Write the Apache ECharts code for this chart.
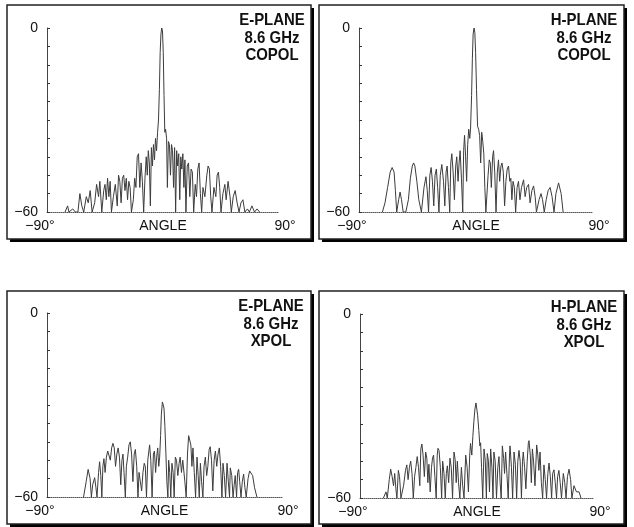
<!DOCTYPE html>
<html>
<head>
<meta charset="utf-8">
<script src="https://cdn.jsdelivr.net/npm/echarts@6/dist/echarts.min.js"></script>
<style>
  html, body { margin: 0; padding: 0; background: #fff; }
  #chart { width: 634px; height: 527px; }
</style>
</head>
<body>
<div id="chart"></div>
<script>
// Measured antenna patterns at 8.6 GHz: [angle in degrees, relative level in dB]
const eCopol = [
  [-76,-60],[-74,-58],[-73,-60],[-70,-59],[-68,-60],
  [-66,-60],[-64.5,-54],[-63,-58],[-61.5,-60],[-59.5,-55],[-58,-57],[-56.5,-53],[-55,-60],
  [-53,-57],[-51.5,-51],[-50,-55],[-49,-50],[-47.5,-60],[-46,-53],[-45,-51],[-44,-56],[-43,-49],[-42,-55],[-41,-50],[-40,-60],
  [-38.5,-55],[-37,-51],[-35.5,-58],[-34.5,-48],[-33.5,-50],[-32.5,-57],[-31.5,-49],[-30.5,-48],[-29.5,-53],[-28.5,-49],[-27.5,-56],[-26.5,-50],[-25.5,-52],[-24.5,-60],
  [-23,-56],[-22,-49],[-21,-52],[-20,-42],[-19,-41],[-18,-52],[-17,-44],[-16,-50],[-15,-60],[-14,-49],[-13,-42],[-12.2,-48],[-11.4,-40],[-10.6,-44],[-9.8,-58],[-9,-39],[-8.2,-45],[-7.4,-38],[-6.6,-43],[-5.8,-36],[-5,-40],[-4.2,-34],[-3.5,-30],
  [-2.8,-20],[-2.2,-8],[-1.6,-2],[-1,0],[-0.4,-1],[0.2,-8],[0.8,-22],[1.4,-34],
  [2,-33],[2.8,-36],[3.4,-52],[4.2,-37],[5,-38],[5.8,-48],[6.6,-38],[7.4,-40],[8.2,-52],[9,-39],[9.8,-60],[10.6,-40],[11.4,-45],[12.2,-41],[13,-56],[13.8,-42],[14.6,-46],[15.4,-41],[16.2,-52],[17,-43],[17.8,-60],
  [18.8,-45],[19.8,-44],[20.8,-55],[21.8,-46],[22.8,-47],[23.8,-60],[25,-51],[26,-55],[27,-46],[28,-44],[29,-54],[30,-60],[31,-52],[32.5,-55],[34,-48],[35,-45],[36,-46],[37,-55],[38,-60],
  [39.5,-52],[41,-55],[42,-48],[43,-47],[44,-52],[45,-60],[46.5,-54],[48,-51],[49,-56],[50.5,-50],[52,-55],[53,-60],[54.5,-55],[56,-53],[57.5,-57],[59,-60],[60.5,-57],[62,-56],[63.5,-60],[65.5,-59],[67,-60],[69,-58],[71,-60],[73,-59],[75,-60]
];

const hCopol = [
  [-72,-60],[-70,-57],[-68,-52],[-66,-47],[-64.5,-45.5],[-63,-47],[-62,-53],[-61,-60],[-59.5,-56],[-58.4,-53.5],[-57.3,-56],[-56,-60],
  [-54,-60],[-52,-56],[-50.5,-49],[-49,-45],[-48,-44],[-47,-45],[-45.5,-50],[-44,-56],[-42,-60],
  [-40,-52],[-38.5,-48.5],[-37.5,-53],[-36.5,-60],[-35.5,-48],[-34.5,-45.5],[-33.5,-50],[-32.5,-58],[-31.5,-48],[-30.5,-46],[-29.5,-52],[-28.5,-60],[-27.5,-48],[-26.3,-44.5],[-25,-50],[-24,-58],[-23,-47],[-22.2,-45],[-21.2,-52],[-20.2,-60],[-19.4,-44],[-18.6,-41],[-17.6,-47],[-16.6,-56],[-15.6,-45],[-14.8,-42],[-13.8,-50],[-13,-44],[-12.2,-40],[-11.2,-49],[-10.2,-60],[-9.5,-40],[-8.8,-35],[-8,-42],[-7.2,-50],[-6.4,-38],[-5.6,-33],[-4.8,-36],[-4.2,-33],
  [-3.4,-22],[-2.8,-10],[-2.2,-2],[-1.5,0],[-0.9,-1.5],[-0.3,-8],[0.4,-20],[1.2,-32],
  [2,-33],[2.8,-35],[3.6,-44],[4.4,-34],[5.2,-37],[6,-41],[6.8,-52],[7.6,-60],[8.4,-60],[9.3,-48],[10.2,-43],[11,-44],[11.8,-52],[12.8,-42],[13.5,-40],[14.4,-47],[15.4,-60],[16.4,-47],[17.3,-43],[18.2,-50],[19.2,-45],[20,-44],[21,-47],[22,-58],[23,-50],[24,-46],[25,-45],[26,-50],[26.8,-49],[27.6,-56],[28.5,-50],[29.5,-52],[30.5,-60],[31.6,-52],[32.7,-50],[33.8,-56],[35,-52],[36.6,-49.5],[37.8,-55],[39,-52],[40.4,-51],[41.6,-57],[43,-53],[44.3,-51.5],[45.5,-55],[46.5,-60],[47.5,-60],[48.5,-56],[50,-54],[51.2,-56],[52.5,-60],[54,-56],[55.5,-53],[57,-52],[58.5,-55],[60,-60],[61.5,-54],[63.5,-50.5],[65.5,-54],[67,-60]
];

const eXpol = [
  [-62,-60],[-60,-55],[-58.5,-51],[-57,-54],[-56,-60],[-55,-56],[-53.5,-53.7],[-52.5,-57],[-51.7,-60],
  [-50.5,-52],[-49.7,-48.5],[-48.8,-53],[-48,-60],[-47.2,-50],[-46.4,-47.5],[-45.5,-52],[-44.5,-47],[-43.5,-45],[-42.5,-44.5],[-41.5,-48],[-40.5,-44],[-39.5,-42.5],[-38.5,-44],[-37.5,-50],[-36.5,-46],[-35.5,-44],[-34.5,-47],[-33.5,-56],[-32.6,-48],[-31.8,-46],[-31,-52],[-30,-60],[-29.2,-50],[-28.2,-47],[-27.2,-43],[-26.2,-42],[-25.2,-46],[-24.2,-55],[-23.2,-46],[-22.3,-44.5],[-21.3,-50],[-20.3,-60],[-19.5,-52],[-18.5,-55],[-17.5,-58],[-16.5,-52],[-15.5,-49],[-14.7,-50],[-13.8,-60],[-12.8,-48],[-11.4,-43],[-10.5,-48],[-9.5,-60],[-8.5,-46],[-7.7,-45],[-6.8,-52],[-6,-47],[-5.2,-44],[-4.4,-50],[-3.7,-47],
  [-3,-40],[-2.4,-33],[-1.6,-29],[-1,-28.7],[-0.4,-31],[0.3,-37],[1,-45],[1.8,-55],[2.6,-60],[3.2,-48],[4,-52],[4.8,-60],[5.7,-49],[6.6,-52],[7.4,-60],[8.3,-47],[9.2,-48],[10.2,-53],[11.2,-49],[12,-47],[13,-52],[14,-48],[14.7,-48.5],[15.6,-55],[16.6,-60],[17.6,-46],[18.5,-40],[19.3,-39.5],[20.2,-43],[21,-50],[21.8,-44],[22.8,-52],[23.8,-60],[24.9,-47],[25.8,-53],[26.6,-60],[27.5,-49],[28.4,-55],[29.4,-60],[30.3,-50],[31.3,-47],[32.3,-53],[33.2,-50],[34.2,-44.5],[35,-43.6],[36,-48],[37,-58],[38,-48],[39,-45],[40,-50],[41,-46],[42,-44],[43,-50],[44,-60],[44.8,-49],[45.8,-53],[46.8,-60],[47.9,-49],[48.9,-55],[49.8,-60],[50.4,-50.5],[51.5,-53],[52.5,-60],[53.4,-56],[54.2,-53],[55.2,-60],[56,-52],[56.8,-51],[57.6,-55],[58.6,-60],[59.6,-55],[60.6,-52.5],[61.6,-57],[62.6,-60],[64,-54],[65.2,-51.5],[66.2,-51],[67.5,-53],[69,-57],[70.8,-60]
];

const hXpol = [
  [-72,-60],[-70,-58],[-69,-60],[-67.5,-54],[-66.4,-50.6],[-65.3,-53],[-64.2,-56],[-63.3,-52],[-62.4,-57],[-61.6,-60],[-60.5,-51],[-59.6,-53],[-58.5,-60],[-57.5,-60],[-56.5,-56],[-55,-51],[-54,-49.2],[-53,-54],[-52,-50],[-51,-48],[-50,-52],[-49,-60],[-48,-53],[-47,-50],[-46,-46.5],[-45,-50],[-44,-56],[-43.2,-44],[-42.4,-42.4],[-41.5,-46],[-40.5,-53],[-39.5,-45],[-38.6,-47],[-37.8,-55],[-37,-49],[-36,-58],[-35,-50],[-34.2,-47],[-33.4,-46],[-32.4,-53],[-31.4,-60],[-30.6,-46],[-30,-43.8],[-29.2,-44.5],[-28.2,-50],[-27.2,-60],[-26.4,-48],[-25.4,-52],[-24.4,-60],[-23.6,-52],[-22.8,-49.5],[-21.8,-55],[-20.8,-47],[-19.8,-50],[-18.8,-60],[-17.7,-45],[-16.8,-47.5],[-16,-55],[-15.1,-48],[-14.2,-55],[-13.2,-60],[-12,-50],[-11,-56],[-10,-60],[-8.7,-46],[-7.6,-50],[-6.6,-58],[-5.6,-46],[-5,-42.2],[-4,-46],
  [-3.2,-40],[-2.4,-35],[-1.6,-31],[-0.8,-29],[-0.2,-29.5],[0.5,-33],[1.4,-38],[2.2,-43],[2.8,-42],[3.5,-50],[4.4,-60],[5.4,-44],[6.4,-48],[7.2,-60],[7.9,-45.5],[8.8,-48],[9.6,-58],[10.5,-44],[11.5,-50],[12.3,-60],[13,-45],[14,-48],[15,-60],[16,-50],[16.9,-46.5],[17.8,-55],[18.6,-60],[19.5,-43],[20.5,-47],[21.2,-52],[22,-45],[23,-52],[24,-60],[25,-46],[25.4,-43],[26.5,-50],[27.4,-60],[28.5,-45],[29.5,-49],[30.5,-60],[31.4,-48],[32.3,-44.5],[33.2,-48],[34.2,-60],[35,-48],[35.6,-45],[36.6,-50],[37.6,-57],[38.6,-48],[39.5,-42],[40,-41.3],[41,-46],[41.8,-55],[42.6,-44],[43.5,-48],[44.6,-56],[45.9,-42.7],[46.8,-46],[47.6,-51],[48.5,-45],[49.5,-55],[50.5,-60],[51.5,-49.2],[52.5,-54],[53.5,-60],[54.5,-52],[55.4,-48.6],[56.4,-53],[57.4,-60],[58.2,-52],[59.2,-50.8],[60.2,-55],[61.2,-60],[62,-53],[63,-51],[64,-55],[65,-60],[66.4,-52],[67.5,-55],[68.5,-60],[69.6,-53],[70.8,-50.6],[72,-54],[73,-60],[74.6,-56],[76.5,-58],[78.5,-58],[80,-60]
];

// Panel captions
const panelTitles = [
  'E-PLANE\n8.6 GHz\nCOPOL',
  'H-PLANE\n8.6 GHz\nCOPOL',
  'E-PLANE\n8.6 GHz\nXPOL',
  'H-PLANE\n8.6 GHz\nXPOL'
];
const panelData = [eCopol, hCopol, eXpol, hXpol];
const xTickLabels = { '-90': '{l|\u221290\u00b0}', '90': '{r|90\u00b0}' };
const yTickLabels = { '0': '0', '-60': '\u221260' };
const xName = 'ANGLE';

// Layout of the 2x2 panels
const frames = [
  { x: 7, y: 5, w: 304, h: 234 },
  { x: 319, y: 5, w: 305, h: 234 },
  { x: 7, y: 291, w: 304, h: 233 },
  { x: 319, y: 291, w: 305, h: 233 }
];
const grids = [
  { left: 47, top: 28, width: 232, height: 184 },
  { left: 359, top: 28, width: 234, height: 184 },
  { left: 47, top: 313, width: 235, height: 184 },
  { left: 360, top: 314, width: 234, height: 184 }
];
const captionPos = [
  { x: 272, y: 12 }, { x: 584, y: 12 }, { x: 271, y: 298 }, { x: 584, y: 299 }
];

const FONT = '"Liberation Sans Narrow", "Arial Narrow", "Liberation Sans", sans-serif';

const chart = echarts.init(document.getElementById('chart'), null, { renderer: 'canvas' });

const graphic = [];
frames.forEach((f, i) => {
  graphic.push({
    type: 'rect', z: -20, silent: true,
    shape: { x: f.x + 3, y: f.y + 3, width: f.w, height: f.h },
    style: { fill: '#000' }
  });
  graphic.push({
    type: 'rect', z: -10, silent: true,
    shape: { x: f.x, y: f.y, width: f.w, height: f.h },
    style: { fill: '#fff', stroke: '#222', lineWidth: 1.5 }
  });
  graphic.push({
    type: 'text', z: 10, silent: true,
    x: captionPos[i].x, y: captionPos[i].y,
    scaleX: 0.88,
    style: {
      text: panelTitles[i],
      fill: '#111',
      font: 'bold 17px ' + FONT,
      textAlign: 'center',
      textVerticalAlign: 'top',
      lineHeight: 17.5
    }
  });
});

const option = {
  animation: false,
  backgroundColor: '#fff',
  graphic: graphic,
  grid: grids.map(g => Object.assign({ containLabel: false }, g)),
  xAxis: grids.map((g, i) => ({
    type: 'value', gridIndex: i,
    min: -90, max: 90, interval: 90,
    name: xName, nameLocation: 'middle', nameGap: 7, nameMoveOverlap: false,
    nameTextStyle: { fontFamily: FONT, fontSize: 14, color: '#111', verticalAlign: 'top' },
    axisLine: { show: true, onZero: false, lineStyle: { color: '#555', width: 1, type: 'dotted' } },
    axisTick: { show: false },
    splitLine: { show: false },
    axisLabel: {
      margin: 7, fontFamily: FONT, fontSize: 14, color: '#111',
      formatter: v => xTickLabels[String(v)] || '',
      rich: {
        l: { fontFamily: FONT, fontSize: 14, color: '#111', padding: [0, 14, 0, 0] },
        r: { fontFamily: FONT, fontSize: 14, color: '#111', padding: [0, 0, 0, 12] }
      }
    }
  })),
  yAxis: grids.map((g, i) => ({
    type: 'value', gridIndex: i,
    min: -60, max: 0, interval: 6,
    axisLine: { show: true, onZero: false, lineStyle: { color: '#444', width: 1 } },
    axisTick: { show: true, inside: true, length: 3, lineStyle: { color: '#333' } },
    splitLine: { show: false },
    axisLabel: {
      margin: 9, fontFamily: FONT, fontSize: 14, color: '#111',
      formatter: v => yTickLabels[String(v)] || ''
    }
  })),
  series: panelData.map((d, i) => ({
    type: 'line', xAxisIndex: i, yAxisIndex: i,
    data: d, showSymbol: false, symbol: 'none',
    lineStyle: { color: '#3c3c3c', width: 1 },
    z: 3
  }))
};

chart.setOption(option);
</script>
</body>
</html>
